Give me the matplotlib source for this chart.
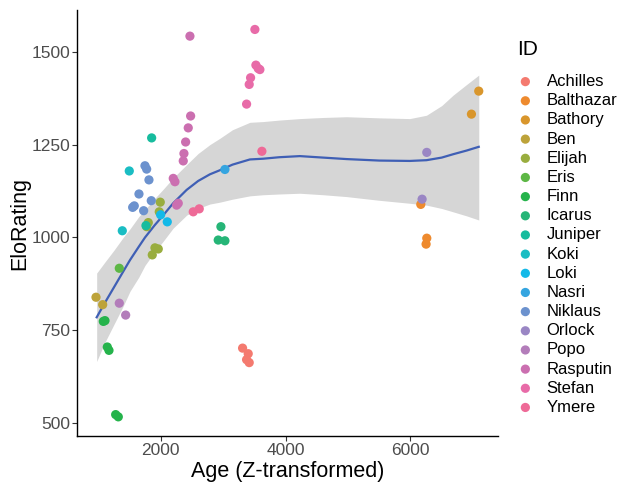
import numpy as np
import matplotlib
matplotlib.use('Agg')
import matplotlib.pyplot as plt

plt.rcParams['font.family'] = ['Liberation Sans', 'DejaVu Sans']

ids = ['Achilles', 'Balthazar', 'Bathory', 'Ben', 'Elijah', 'Eris', 'Finn',
       'Icarus', 'Juniper', 'Koki', 'Loki', 'Nasri', 'Niklaus', 'Orlock',
       'Popo', 'Rasputin', 'Stefan', 'Ymere']
id_colours = ['#f47a6f', '#ee8a2e', '#d9962c', '#bda33a', '#99ad3e', '#5db745',
              '#25b34b', '#26b577', '#17bc9e', '#1abdc3', '#13b9e8', '#35a5e0',
              '#6c92ce', '#9a86c4', '#b37dba', '#cb6fb0', '#e86ba8', '#ee6a97']

obs_id = (['Achilles'] * 4 + ['Balthazar'] * 3 + ['Bathory'] * 2 + ['Ben'] * 2
          + ['Elijah'] * 7 + ['Eris'] + ['Finn'] * 6 + ['Icarus'] * 3
          + ['Juniper'] * 2 + ['Koki'] * 2 + ['Loki'] * 2 + ['Nasri']
          + ['Niklaus'] * 8 + ['Orlock'] * 2 + ['Popo'] * 2
          + ['Rasputin'] * 10 + ['Stefan'] * 7 + ['Ymere'] * 3)
obs_age = [3312, 3402, 3418, 3376,
           6165, 6261, 6250,
           7093, 6976,
           965, 1072,
           1994, 1978, 1802, 1776, 1909, 1962, 1866,
           1338,
           1082, 1109, 1146, 1173, 1280, 1322,
           2965, 2922, 3029,
           1856, 1765,
           1498, 1386,
           2000, 2106,
           3029,
           1749, 1776, 1813, 1653, 1578, 1552, 1728, 1850,
           6261, 6186,
           1338, 1440,
           2469, 2480, 2442, 2400, 2373, 2362, 2202, 2229, 2282, 2256,
           3509, 3525, 3562, 3589, 3440, 3418, 3376,
           3621, 2522, 2618]
obs_elo = [702, 687, 663, 671,
           1089, 998, 982,
           1394, 1332,
           839, 819,
           1095, 1069, 1040, 1029, 972, 969, 953,
           917,
           774, 776, 705, 696, 523, 517,
           1029, 993, 991,
           1268, 1032,
           1179, 1018,
           1061, 1042,
           1183,
           1193, 1184, 1155, 1117, 1085, 1081, 1072, 1099,
           1229, 1103,
           823, 791,
           1542, 1327, 1295, 1257, 1226, 1206, 1159, 1150, 1092, 1087,
           1560, 1464, 1455, 1452, 1430, 1412, 1359,
           1232, 1069, 1077]

# loess smooth and its confidence band
smooth_age = [976, 1100, 1250, 1400, 1509, 1650, 1750, 1900, 2042, 2200,
              2416, 2600, 2789, 2949, 3150, 3429, 3642, 3900, 4229, 4600,
              4976, 5500, 5989, 6256, 6500, 6682, 6900, 7093]
smooth_fit = [785, 822, 865, 908, 939, 975, 1000, 1032, 1060, 1092,
              1128, 1152, 1170, 1181, 1196, 1210, 1212, 1216, 1219, 1215,
              1211, 1207, 1206, 1208, 1215, 1224, 1234, 1244]
smooth_lo = [666, 715, 765, 815, 855, 893, 925, 960, 990, 1025,
             1060, 1078, 1090, 1095, 1103, 1112, 1115, 1117, 1119, 1115,
             1110, 1100, 1092, 1087, 1078, 1069, 1058, 1047]
smooth_hi = [904, 932, 965, 1000, 1023, 1056, 1075, 1104, 1130, 1160,
             1196, 1226, 1250, 1267, 1290, 1310, 1312, 1316, 1320, 1323,
             1325, 1322, 1320, 1329, 1355, 1383, 1412, 1437]

colours = dict(zip(ids, id_colours))

fig = plt.figure(figsize=(6.2, 4.83), dpi=100)
ax = fig.add_axes([0.124, 0.097, 0.679, 0.882])

ax.fill_between(smooth_age, smooth_lo, smooth_hi, color='#d6d6d6', lw=0, zorder=1)
ax.plot(smooth_age, smooth_fit, color='#3f5fb5', lw=1.6, zorder=2)

obs_id_arr = np.array(obs_id)
obs_age_arr = np.array(obs_age)
obs_elo_arr = np.array(obs_elo)
for name in ids:
    sel = obs_id_arr == name
    ax.scatter(obs_age_arr[sel], obs_elo_arr[sel], s=44, color=colours[name],
               edgecolors='none', label=name, zorder=3)

ax.set_xticks([2000, 4000, 6000])
ax.set_yticks([500, 750, 1000, 1250, 1500])
ax.set_xlim(659, 7399)
ax.set_ylim(465, 1612)
ax.tick_params(labelsize=12.5, colors='#333333', labelcolor='#4d4d4d',
               length=3.4, width=0.8, pad=1.5)
ax.set_xlabel('Age (Z-transformed)', fontsize=15.5, labelpad=2)
ax.set_ylabel('EloRating', fontsize=15.5, labelpad=1)
for side in ['top', 'right']:
    ax.spines[side].set_visible(False)
for side in ['left', 'bottom']:
    ax.spines[side].set_linewidth(1.0)

leg = ax.legend(title='ID', loc='upper left', bbox_to_anchor=(0.821, 0.935),
                bbox_transform=fig.transFigure, frameon=False, fontsize=12,
                title_fontsize=15, labelspacing=0.25, handletextpad=0.8,
                handlelength=0.96, borderpad=0)
leg._legend_box.align = 'left'
leg._legend_box.sep = 11

fig.savefig('out.png', dpi=100)
